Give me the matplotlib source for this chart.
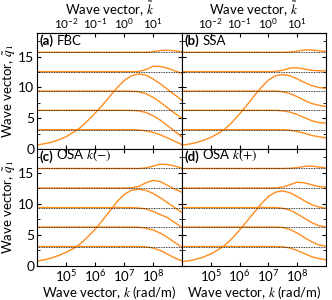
import matplotlib
matplotlib.use("Agg")
import matplotlib.pyplot as plt
import numpy as np

plt.rcParams["font.family"] = ["Lato", "DejaVu Sans"]
plt.rcParams["mathtext.fontset"] = "stix"

# log10 of k (rad/m), common grid for every curve
log_k = [4.0, 4.25, 4.5, 4.75, 5.0, 5.25, 5.5, 5.75, 6.0, 6.25, 6.5,
         6.75, 7.0, 7.25, 7.5, 7.75, 8.0, 8.25, 8.5, 8.75, 9.0]

# thickness mode levels n*pi (dotted reference lines)
levels = [3.14, 6.28, 9.42, 12.57, 15.71]

P1 = [3.14] * 14
P2 = [6.28] * 14
P3 = [9.42] * 13
P4 = [12.57] * 13
P5 = [15.71] * 15

fbc = [
    [0.65, 0.85, 1.1, 1.5, 2.0, 2.7, 3.5, 4.6, 5.8, 7.1, 8.5, 9.9, 11.1, 11.9, 12.2, 12.0, 11.4, 10.6, 9.7, 8.8, 7.9],
    P1 + [3.1, 2.95, 2.7, 2.3, 1.8, 1.25, 0.7],
    P2 + [6.2, 5.95, 5.4, 4.7, 3.8, 2.9, 1.95],
    P3 + [9.4, 9.3, 9.0, 8.4, 7.6, 6.7, 5.8, 5.0],
    P4 + [12.57, 12.6, 12.9, 13.45, 13.4, 13.15, 12.7, 12.3],
    P5 + [15.72, 15.8, 16.0, 16.05, 15.95, 15.8],
]
ssa = [
    [0.6, 0.8, 1.05, 1.4, 1.9, 2.5, 3.3, 4.4, 5.7, 7.1, 8.6, 10.0, 11.2, 11.9, 12.1, 11.9, 11.4, 10.8, 10.3, 10.0, 9.85],
    P1 + [3.14, 3.05, 2.85, 2.55, 2.2, 2.0, 1.8],
    P2 + [6.2, 6.0, 5.6, 5.1, 4.6, 4.3, 4.2],
    P3 + [9.42, 9.3, 9.0, 8.5, 7.9, 7.4, 7.1, 6.9],
    P4 + [12.6, 12.8, 13.15, 13.2, 13.0, 12.8, 12.7, 12.7],
    P5 + [15.75, 15.9, 16.1, 16.1, 15.95, 15.85],
]
osa_minus = [
    [0.8, 1.0, 1.3, 1.7, 2.2, 2.8, 3.6, 4.7, 5.9, 7.3, 8.8, 10.3, 11.5, 12.2, 12.35, 12.2, 11.7, 11.0, 10.2, 9.4, 8.6],
    P1 + [3.14, 3.1, 2.9, 2.5, 1.9, 1.3, 0.8],
    P2 + [6.25, 6.1, 5.8, 5.3, 4.6, 3.8, 3.0],
    P3 + [9.42, 9.35, 9.2, 8.8, 8.3, 7.8, 7.0, 6.2],
    P4 + [12.6, 12.8, 13.4, 13.8, 13.6, 13.0, 12.4, 11.9],
    P5 + [15.8, 16.1, 16.4, 16.35, 16.1, 15.8],
]
osa_plus = [
    [0.7, 0.85, 1.1, 1.45, 1.95, 2.6, 3.4, 4.5, 5.8, 7.2, 8.6, 10.0, 11.2, 11.9, 12.1, 11.8, 11.2, 10.5, 9.9, 9.5, 9.3],
    P1 + [3.1, 2.9, 2.5, 2.0, 1.5, 1.2, 1.0],
    P2 + [6.2, 5.9, 5.3, 4.6, 3.9, 3.4, 3.2],
    P3 + [9.42, 9.3, 9.0, 8.4, 7.7, 7.0, 6.5, 6.3],
    P4 + [12.6, 12.7, 13.1, 13.5, 13.4, 13.1, 12.8, 12.7],
    P5 + [15.75, 15.85, 16.05, 16.1, 15.95, 15.8],
]

panels = [
    (fbc, "(a)", "FBC"),
    (ssa, "(b)", "SSA"),
    (osa_minus, "(c)", r"OSA $k(-)$"),
    (osa_plus, "(d)", r"OSA $k(+)$"),
]

orange = "#ff8c1e"
k = 10.0 ** np.array(log_k)

fig = plt.figure(figsize=(3.32, 3.0), dpi=100)
x0, xm, x1 = 37 / 332, 182 / 332, 326 / 332
yb, ym, yt = 1 - 266 / 300, 1 - 149 / 300, 1 - 33 / 300
boxes = [
    [x0, ym, xm - x0, yt - ym],
    [xm, ym, x1 - xm, yt - ym],
    [x0, yb, xm - x0, ym - yb],
    [xm, yb, x1 - xm, ym - yb],
]

for i, ((curves, tag, name), box) in enumerate(zip(panels, boxes)):
    ax = fig.add_axes(box)
    for c in curves:
        ax.plot(k, c, color=orange, lw=1.0, zorder=2)
    for lv in levels:
        ax.axhline(lv, color="black", lw=0.6, ls=(0, (1, 1)), zorder=3)
    ax.set_xscale("log")
    ax.set_xlim(1e4, 1e9)
    ax.set_ylim(0, 6 * np.pi)
    ax.set_yticks([0, 5, 10, 15])
    ax.set_yticks([2.5, 7.5, 12.5, 17.5], minor=True)
    ax.set_xticks([1e5, 1e6, 1e7, 1e8])
    ax.xaxis.set_minor_locator(matplotlib.ticker.NullLocator())
    ax.tick_params(which="both", direction="in", top=(i >= 2), right=True,
                   labelsize=10, pad=2)
    ax.tick_params(which="major", length=3)
    ax.tick_params(which="minor", length=2)
    for s in ax.spines.values():
        s.set_linewidth(0.8)
    t = ax.text(0.02, 0.99, tag, transform=ax.transAxes, ha="left", va="top",
                fontsize=9.5, fontweight="bold")
    ax.annotate(name, xy=(1, 0), xycoords=t, xytext=(2, 0),
                textcoords="offset points", ha="left", va="bottom", fontsize=9.5)

    if i % 2 == 0:
        ax.set_ylabel(r"Wave vector, $\tilde{q}_1$", fontsize=9.5, labelpad=1)
    else:
        ax.set_yticklabels([])

    if i >= 2:
        ax.set_xticklabels([r"$\mathregular{10^{%d}}$" % e for e in (5, 6, 7, 8)],
                           fontsize=9.5)
        ax.tick_params(axis="x", pad=1.5)
        ax.set_xlabel(r"Wave vector, $k$ (rad/m)", fontsize=9.5, labelpad=0)
    else:
        ax.set_xticklabels([])
        top = ax.secondary_xaxis("top", functions=(lambda x: x * 1e-7,
                                                    lambda x: x * 1e7))
        top.set_xticks([1e-2, 1e-1, 1e0, 1e1])
        top.set_xticklabels([r"$\mathregular{10^{%d}}$" % e for e in (-2, -1, 0, 1)],
                            fontsize=8.5)
        top.xaxis.set_minor_locator(matplotlib.ticker.NullLocator())
        top.tick_params(direction="in", length=3, pad=1.5)
        top.spines["top"].set_linewidth(0.8)
        top.set_xlabel(r"Wave vector, $\tilde{k}$", fontsize=9.5, labelpad=0.5)

fig.savefig("out.png", dpi=100)
